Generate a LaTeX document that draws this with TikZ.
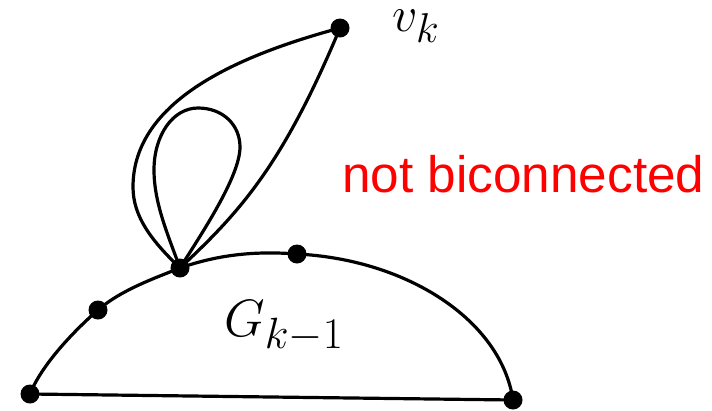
\documentclass[tikz,border=0pt]{standalone}
\usepackage{fontspec}
\newfontfamily\labelfont{Liberation Sans}
\definecolor{labelred}{RGB}{255,0,0}
\tikzset{
  edge/.style={line width=3.2pt, line join=round, line cap=round},
  vdot/.style={circle, fill=black, inner sep=0pt, minimum size=19pt},
  mathlbl/.style={inner sep=0pt, font=\Huge, scale=2.01},
  redlbl/.style={inner sep=0pt, text=labelred, font=\labelfont\fontsize{51.3}{60}\selectfont}
}
\begin{document}
\begin{tikzpicture}[x=1pt,y=-1pt]
\useasboundingbox (0,0) rectangle (712,410);
% vertex coordinates
\coordinate (A) at (30,394);
\coordinate (B) at (98,310);
\coordinate (J) at (180,268);
\coordinate (C) at (297,254);
\coordinate (D) at (513,400);
\coordinate (V) at (340,28);
\coordinate (L) at (133,187);
\coordinate (Lft) at (154,170);
\coordinate (T) at (198,108);
\coordinate (R) at (240,147);
% G_{k-1} boundary
\draw[edge] (A) -- (D);
\draw[edge] (A) .. controls (42,364) and (75,330) .. (B)
  .. controls (121,290) and (155,278) .. (J)
  .. controls (220,254) and (257,251) .. (C)
  .. controls (407,259.5) and (501,320) .. (D);
% outer loop to v_k
\draw[edge] (J) .. controls (152,241) and (133,217) .. (L)
  .. controls (133,100) and (240,55) .. (V);
\draw[edge] (V) .. controls (282.5,165.5) and (240,212) .. (J);
% inner loop
\draw[edge] (J) .. controls (168,235) and (154,203) .. (Lft)
  .. controls (154,135) and (173,108) .. (T)
  .. controls (223,108) and (240,125) .. (R)
  .. controls (240,177) and (200,236) .. (J);
% dots
\node[vdot] (nA) at (A) {};
\node[vdot] (nB) at (B) {};
\node[vdot] (nJ) at (J) {};
\node[vdot] (nC) at (C) {};
\node[vdot] (nD) at (D) {};
\node[vdot] (nV) at (V) {};
% labels
\node[mathlbl, anchor=base west] (lv) at (392,31) {$v_k$};
\node[mathlbl, anchor=base west, scale=1.05] (lg) at (224,336) {$G_{k-1}$};
\node[redlbl, anchor=base west] (lr) at (342,192) {not biconnected};
\end{tikzpicture}
\end{document}
